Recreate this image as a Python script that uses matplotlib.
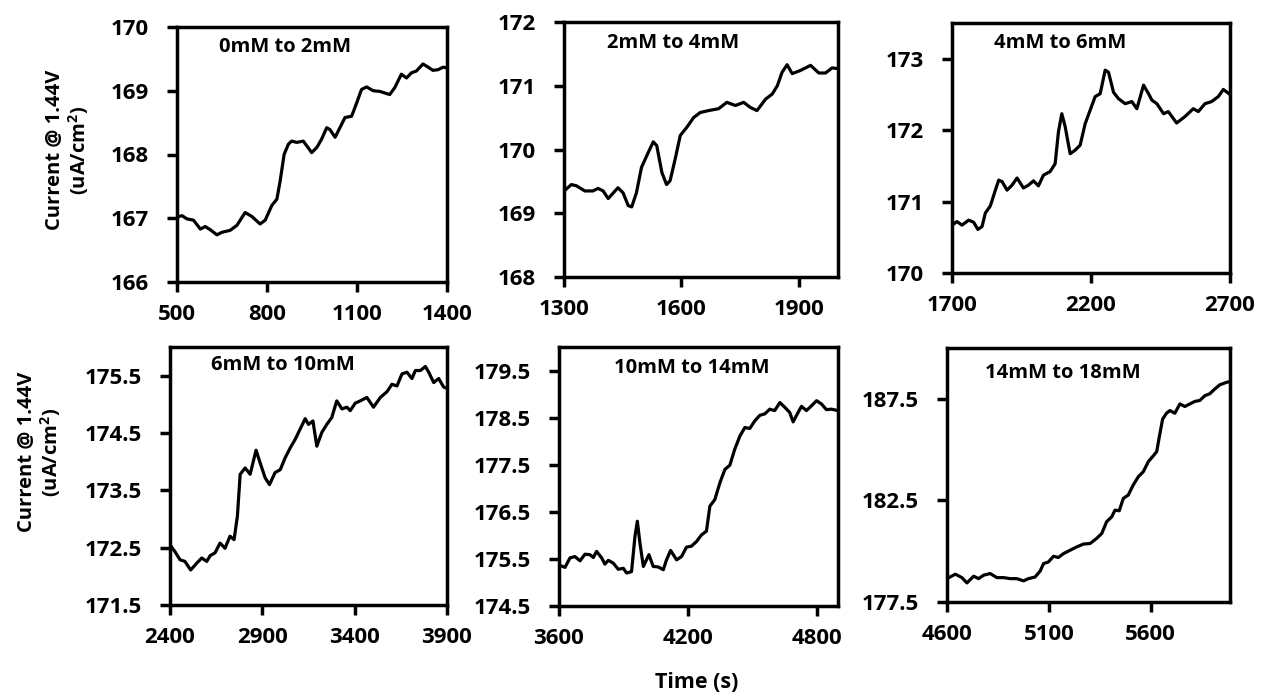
import matplotlib
matplotlib.use("Agg")
import matplotlib.pyplot as plt

plt.rcParams['font.family'] = ['Open Sans', 'DejaVu Sans']
plt.rcParams['font.weight'] = 'bold'
plt.rcParams['mathtext.fontset'] = 'custom'
plt.rcParams['mathtext.bf'] = 'Open Sans:bold'
plt.rcParams['mathtext.rm'] = 'Open Sans:bold'

# ---------------- data ----------------
p1_x = [500, 517, 533, 555, 578, 594, 611, 633, 650, 677, 700, 727, 749, 777, 794, 816, 833, 844, 857, 871,
        882, 899, 921, 949, 966, 982, 999, 1010, 1027, 1043, 1060, 1082, 1099, 1115, 1132, 1154, 1176, 1209,
        1226, 1248, 1265, 1281, 1298, 1320, 1337, 1353, 1370, 1387, 1398]
p1_y = [167.02, 167.04, 166.99, 166.97, 166.83, 166.87, 166.82, 166.74, 166.78, 166.81, 166.89, 167.09,
        167.03, 166.91, 166.97, 167.20, 167.30, 167.59, 168.00, 168.16, 168.21, 168.19, 168.21, 168.03,
        168.11, 168.24, 168.42, 168.39, 168.27, 168.42, 168.58, 168.60, 168.81, 169.02, 169.06, 169.00,
        168.99, 168.94, 169.05, 169.26, 169.20, 169.28, 169.31, 169.42, 169.37, 169.32, 169.33, 169.37, 169.36]

p2_x = [1300, 1319, 1332, 1353, 1374, 1387, 1400, 1413, 1426, 1438, 1451, 1464, 1473, 1485, 1498, 1515,
        1528, 1537, 1550, 1562, 1571, 1584, 1597, 1614, 1631, 1648, 1669, 1695, 1716, 1738, 1759, 1776,
        1793, 1815, 1832, 1845, 1857, 1870, 1883, 1904, 1930, 1951, 1968, 1985, 1998]
p2_y = [169.35, 169.45, 169.43, 169.35, 169.35, 169.39, 169.35, 169.23, 169.32, 169.40, 169.32, 169.12,
        169.10, 169.32, 169.72, 169.95, 170.12, 170.06, 169.64, 169.45, 169.51, 169.85, 170.22, 170.35,
        170.50, 170.58, 170.61, 170.64, 170.74, 170.69, 170.74, 170.66, 170.61, 170.79, 170.87, 171.00,
        171.21, 171.33, 171.19, 171.24, 171.32, 171.20, 171.20, 171.28, 171.27]

p3_x = [1700, 1718, 1736, 1760, 1778, 1793, 1808, 1820, 1838, 1856, 1868, 1880, 1898, 1916, 1934, 1957,
        1975, 1993, 2011, 2029, 2053, 2071, 2083, 2095, 2107, 2125, 2143, 2161, 2179, 2197, 2215, 2233,
        2251, 2263, 2281, 2299, 2323, 2347, 2365, 2389, 2407, 2419, 2437, 2461, 2478, 2508, 2538, 2568,
        2586, 2610, 2634, 2658, 2676, 2700]
p3_y = [170.67, 170.72, 170.67, 170.74, 170.71, 170.61, 170.65, 170.84, 170.94, 171.16, 171.30, 171.28,
        171.16, 171.23, 171.33, 171.19, 171.23, 171.29, 171.22, 171.37, 171.42, 171.53, 171.98, 172.23,
        172.05, 171.67, 171.72, 171.79, 172.09, 172.28, 172.47, 172.51, 172.84, 172.81, 172.53, 172.44,
        172.37, 172.40, 172.30, 172.63, 172.51, 172.42, 172.37, 172.23, 172.26, 172.10, 172.19, 172.30,
        172.26, 172.37, 172.40, 172.47, 172.57, 172.50]

p4_x = [2400, 2427, 2454, 2481, 2512, 2545, 2572, 2599, 2617, 2644, 2671, 2698, 2725, 2747, 2765, 2780,
        2807, 2834, 2866, 2888, 2915, 2939, 2969, 2997, 3024, 3051, 3078, 3105, 3132, 3150, 3174, 3195,
        3222, 3249, 3276, 3303, 3331, 3358, 3376, 3403, 3430, 3466, 3502, 3539, 3575, 3602, 3629, 3656,
        3683, 3710, 3729, 3756, 3783, 3801, 3828, 3855, 3882, 3900]
p4_y = [172.55, 172.43, 172.29, 172.26, 172.11, 172.23, 172.32, 172.26, 172.36, 172.41, 172.58, 172.49,
        172.70, 172.64, 173.05, 173.78, 173.89, 173.78, 174.20, 173.98, 173.72, 173.60, 173.81, 173.86,
        174.07, 174.24, 174.39, 174.57, 174.75, 174.65, 174.71, 174.27, 174.51, 174.65, 174.77, 175.06,
        174.92, 174.95, 174.89, 175.02, 175.06, 175.12, 174.95, 175.12, 175.22, 175.35, 175.32, 175.53,
        175.56, 175.45, 175.59, 175.59, 175.66, 175.56, 175.38, 175.45, 175.30, 175.28]

p5_x = [3600, 3628, 3651, 3674, 3698, 3721, 3744, 3760, 3775, 3799, 3814, 3830, 3853, 3876, 3900, 3915,
        3938, 3954, 3965, 3977, 3993, 4019, 4039, 4062, 4086, 4101, 4120, 4148, 4171, 4194, 4217, 4241,
        4264, 4287, 4303, 4326, 4350, 4373, 4396, 4419, 4443, 4466, 4489, 4512, 4536, 4559, 4582, 4605,
        4629, 4652, 4675, 4691, 4714, 4730, 4753, 4776, 4800, 4823, 4846, 4869, 4900]
p5_y = [175.37, 175.32, 175.52, 175.55, 175.46, 175.60, 175.59, 175.53, 175.66, 175.52, 175.39, 175.47,
        175.41, 175.28, 175.30, 175.20, 175.23, 175.98, 176.30, 175.84, 175.34, 175.59, 175.34, 175.33,
        175.27, 175.48, 175.68, 175.48, 175.55, 175.75, 175.77, 175.87, 176.01, 176.09, 176.62, 176.76,
        177.12, 177.40, 177.49, 177.83, 178.11, 178.29, 178.27, 178.43, 178.55, 178.58, 178.68, 178.65,
        178.82, 178.72, 178.61, 178.41, 178.61, 178.74, 178.65, 178.75, 178.86, 178.79, 178.67, 178.68, 178.65]

p6_x = [4600, 4641, 4673, 4698, 4731, 4755, 4780, 4812, 4845, 4878, 4910, 4943, 4976, 5000, 5033, 5058,
        5074, 5098, 5123, 5147, 5172, 5205, 5237, 5270, 5303, 5335, 5360, 5384, 5409, 5425, 5446, 5466,
        5490, 5515, 5540, 5564, 5589, 5613, 5630, 5643, 5659, 5678, 5695, 5719, 5744, 5768, 5793, 5817,
        5842, 5866, 5891, 5915, 5940, 5973, 5990]
p6_y = [178.65, 178.87, 178.70, 178.44, 178.77, 178.65, 178.82, 178.90, 178.70, 178.70, 178.65, 178.65,
        178.54, 178.65, 178.73, 179.03, 179.39, 179.47, 179.75, 179.69, 179.88, 180.05, 180.21, 180.35,
        180.38, 180.63, 180.87, 181.45, 181.69, 182.02, 181.99, 182.60, 182.76, 183.26, 183.67, 183.91,
        184.41, 184.69, 184.90, 185.64, 186.50, 186.79, 186.92, 186.79, 187.25, 187.12, 187.25, 187.37,
        187.42, 187.65, 187.75, 187.98, 188.19, 188.31, 188.35]

labels = ["0mM to 2mM", "2mM to 4mM", "4mM to 6mM", "6mM to 10mM", "10mM to 14mM", "14mM to 18mM"]
xlims = [(500, 1400), (1300, 2000), (1700, 2700), (2400, 3900), (3600, 4900), (4600, 5990)]
ylims = [(166, 170), (168, 172), (170, 173.5), (171.5, 176), (174.5, 180), (177.5, 190)]
xticks = [[500, 800, 1100, 1400], [1300, 1600, 1900], [1700, 2200, 2700],
          [2400, 2900, 3400, 3900], [3600, 4200, 4800], [4600, 5100, 5600]]
yticks = [[166, 167, 168, 169, 170], [168, 169, 170, 171, 172], [170, 171, 172, 173],
          [171.5, 172.5, 173.5, 174.5, 175.5], [174.5, 175.5, 176.5, 177.5, 178.5, 179.5],
          [177.5, 182.5, 187.5]]
yfmt = ["{:.0f}", "{:.0f}", "{:.0f}", "{:.1f}", "{:.1f}", "{:.1f}"]
series = [(p1_x, p1_y), (p2_x, p2_y), (p3_x, p3_y), (p4_x, p4_y), (p5_x, p5_y), (p6_x, p6_y)]

# ---------------- layout (pixels: left, right, top, bottom) ----------------
W, H = 1261, 696
boxes = [(177, 447, 27, 282), (564, 838, 22, 277), (952, 1230, 23, 273),
         (170, 447, 347, 605), (559, 838, 347, 606), (947, 1230, 348, 602)]
label_pos = [(285, 47), (673, 43), (1060, 43), (283, 365), (692, 368), (1063, 373)]

fig = plt.figure(figsize=(W / 100, H / 100), dpi=100)

for i in range(6):
    l, r, t, b = boxes[i]
    ax = fig.add_axes([l / W, 1 - b / H, (r - l) / W, (b - t) / H])
    x, y = series[i]
    ax.plot(x, y, color='black', lw=2.3, solid_joinstyle='round')
    ax.set_xlim(*xlims[i])
    ax.set_ylim(*ylims[i])
    ax.set_xticks(xticks[i])
    ax.set_xticklabels([str(v) for v in xticks[i]])
    ax.set_yticks(yticks[i])
    ax.set_yticklabels([yfmt[i].format(v) for v in yticks[i]])
    for s in ax.spines.values():
        s.set_linewidth(2.5)
    ax.tick_params(direction='out', length=7, width=2.5, labelsize=16)
    ax.tick_params(axis='y', pad=13)
    ax.tick_params(axis='x', pad=9)
    for lab in ax.get_xticklabels() + ax.get_yticklabels():
        lab.set_fontweight('bold')
    lx, ly = label_pos[i]
    fig.text(lx / W, 1 - ly / H, labels[i], ha='center', va='center',
             fontsize=14.5, fontweight='bold')

fig.text(68 / W, 1 - 150 / H, "Current @ 1.44V\n(uA/cm$^\\mathbf{2}$)", rotation=90,
         ha='center', va='center', fontsize=14.5, fontweight='bold', linespacing=1.1)
fig.text(40 / W, 1 - 452 / H, "Current @ 1.44V\n(uA/cm$^\\mathbf{2}$)", rotation=90,
         ha='center', va='center', fontsize=14.5, fontweight='bold', linespacing=1.1)
fig.text(697 / W, 1 - 682 / H, "Time (s)", ha='center', va='center',
         fontsize=15.5, fontweight='bold')

fig.savefig("out.png", dpi=100)
